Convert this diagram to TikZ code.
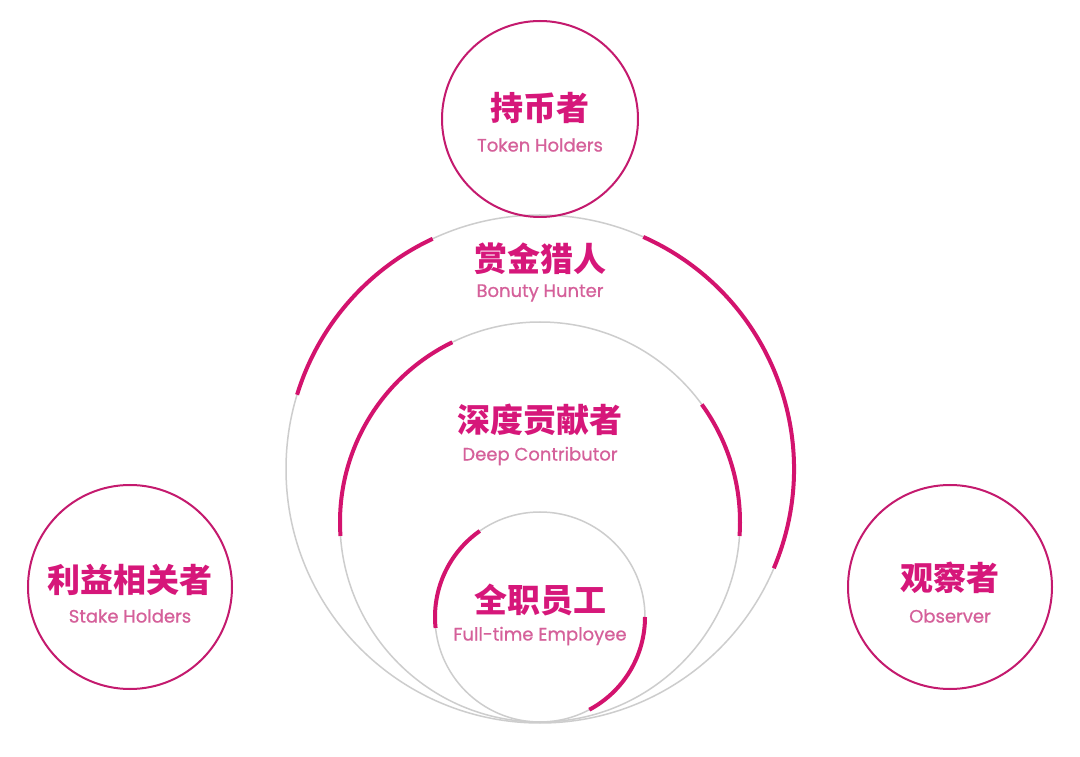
\documentclass[tikz,border=0pt]{standalone}
\usepackage{fontspec}
\setmainfont{Poppins}[FakeBold=0.7]
\newfontfamily\cjk{Noto Sans CJK SC}
\definecolor{mag}{HTML}{D3136E}
\definecolor{ring}{HTML}{C41A6E}
\definecolor{title}{HTML}{D6177A}
\definecolor{sub}{HTML}{D5609A}
\definecolor{gray}{HTML}{CDCDCD}
\begin{document}
\begin{tikzpicture}[x=1pt,y=1pt,
  graycirc/.style={circle,draw=gray,line width=1.5pt,inner sep=0pt,minimum size=#1},
  outcirc/.style={circle,draw=ring,line width=2pt,inner sep=0pt,minimum size=#1},
  arcline/.style={draw=mag,line width=4pt},
  ttl/.style={font=\cjk\bfseries\fontsize{33}{33}\selectfont,text=title,inner sep=0pt},
  subt/.style={font=\fontsize{18}{18}\selectfont,text=sub,inner sep=0pt}]
\useasboundingbox (0,0) rectangle (1080,756);
\fill[white] (0,0) rectangle (1080,756);
% gray nested circles
\node[graycirc=508] (big) at (540,287) {};
\node[graycirc=400] (mid) at (540,234) {};
\node[graycirc=210] (small) at (540,139) {};
% outer circles
\node[outcirc=196] (top) at (540,637) {};
\node[outcirc=204] (left) at (130,169) {};
\node[outcirc=204] (right) at (950,169) {};
% magenta arcs
\draw[arcline] (big.center) ++(115:254) arc[start angle=115,end angle=163,radius=254];
\draw[arcline] (big.center) ++(-23:254) arc[start angle=-23,end angle=66,radius=254];
\draw[arcline] (mid.center) ++(116:200) arc[start angle=116,end angle=184,radius=200];
\draw[arcline] (mid.center) ++(-4:200) arc[start angle=-4,end angle=36,radius=200];
\draw[arcline] (small.center) ++(125:105) arc[start angle=125,end angle=186,radius=105];
\draw[arcline] (small.center) ++(-62:105) arc[start angle=-62,end angle=0,radius=105];
% texts
\node[ttl] (t1) at (540,648) {持币者};
\node[subt] (s1) at (540,611) {Token Holders};
\node[ttl] (t2) at (540,497) {赏金猎人};
\node[subt] (s2) at (540,463) {Bonuty Hunter};
\node[ttl] (t3) at (540,336) {深度贡献者};
\node[subt] (s3) at (540,300) {Deep Contributor};
\node[ttl] (t4) at (540,156) {全职员工};
\node[subt] (s4) at (540,120) {Full-time Employee};
\node[ttl] (t5) at (130,176) {利益相关者};
\node[subt] (s5) at (130,140) {Stake Holders};
\node[ttl] (t6) at (950,178) {观察者};
\node[subt] (s6) at (950,140) {Observer};
\end{tikzpicture}
\end{document}
